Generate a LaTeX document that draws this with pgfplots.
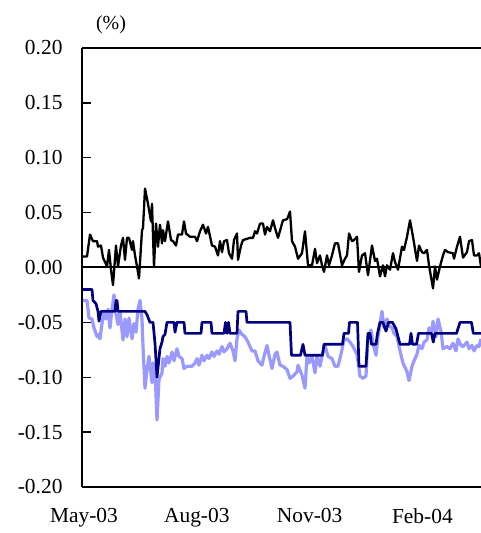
\documentclass[border=0pt]{standalone}
\usepackage{fontspec}
\setmainfont{Liberation Serif}
\usepackage{pgfplots}
\pgfplotsset{compat=1.18}
\usepackage{pgfplotstable}
\definecolor{navy}{RGB}{0,0,128}
\definecolor{lightb}{RGB}{153,153,255}

\pgfplotstableread{
t v
1 0.010
5 0.010
8 0.030
11 0.024
15 0.024
16 0.019
19 0.020
21 0.009
25 0.001
27 0.016
29 -0.002
31 -0.016
34 0.020
36 0.001
39 0.020
41 0.027
43 0.007
45 0.027
47 0.027
50 0.016
51 0.024
53 0.011
55 0.001
57 -0.010
60 0.034
61 0.036
63 0.072
66 0.058
69 0.042
70 0.058
72 0.001
74 0.040
76 0.019
78 0.039
80 0.022
81 0.034
83 0.024
86 0.042
89 0.025
91 0.024
94 0.020
96 0.030
100 0.030
102 0.042
104 0.031
108 0.028
113 0.028
115 0.024
118 0.033
121 0.039
124 0.031
126 0.037
130 0.020
133 0.019
136 0.011
138 0.024
140 0.014
142 0.024
145 0.025
147 0.013
150 0.008
152 0.025
155 0.031
156 0.007
159 0.020
161 0.025
168 0.027
171 0.027
173 0.033
175 0.031
178 0.040
181 0.040
183 0.030
185 0.037
188 0.033
191 0.043
193 0.036
196 0.027
200 0.040
201 0.043
205 0.044
206 0.046
208 0.051
210 0.024
213 0.019
216 0.008
220 0.013
223 0.033
226 0.002
230 0.002
233 0.017
235 0.004
238 0.011
240 0.002
242 -0.004
245 0.011
247 0.002
250 0.011
253 0.022
256 0.022
260 0.002
263 0.008
265 0.011
267 0.031
270 0.024
272 0.025
275 0.028
277 -0.004
280 0.011
283 0.013
286 -0.007
290 0.020
293 0.006
295 0.008
298 -0.008
301 0.002
303 -0.008
305 0.002
308 -0.002
311 0.013
313 0.005
316 -0.002
320 0.019
322 0.016
325 0.028
328 0.043
331 0.028
335 0.006
337 0.020
340 0.014
342 0.013
345 0.016
347 0.002
351 -0.019
353 0.001
355 -0.011
358 0.001
361 0.011
363 0.016
366 0.014
371 0.013
372 0.008
375 0.019
378 0.028
381 0.009
385 0.014
387 0.024
390 0.025
392 0.011
395 0.011
397 0.013
399 0.001
}\blackdata

\pgfplotstableread{
t v
1 -0.020
10 -0.020
11 -0.030
14 -0.033
16 -0.040
17 -0.049
19 -0.040
33 -0.040
34 -0.030
35 -0.030
36 -0.040
63 -0.040
65 -0.043
68 -0.050
71 -0.050
73 -0.069
75 -0.100
78 -0.074
80 -0.068
81 -0.063
83 -0.061
85 -0.050
92 -0.050
93 -0.059
95 -0.050
102 -0.050
103 -0.060
119 -0.060
120 -0.050
129 -0.050
130 -0.060
142 -0.060
143.5 -0.050
145 -0.060
146.5 -0.050
148 -0.060
155 -0.060
156 -0.040
164 -0.040
165 -0.050
208 -0.050
209.5 -0.080
218.5 -0.080
221 -0.070
223 -0.080
240.5 -0.080
242 -0.070
260.5 -0.070
262 -0.060
266.5 -0.060
267.5 -0.050
275.5 -0.050
277 -0.090
284 -0.090
286 -0.060
288 -0.060
289.5 -0.070
294 -0.070
295.5 -0.060
298 -0.050
301 -0.050
304 -0.058
306.5 -0.050
310.5 -0.050
314 -0.056
318 -0.070
327.5 -0.070
329 -0.060
330.5 -0.070
334.5 -0.070
336.5 -0.060
349.5 -0.060
351.3 -0.068
353 -0.060
374.5 -0.060
378 -0.050
389.5 -0.050
391.3 -0.060
399 -0.060
}\navydata

\pgfplotstableread{
t v
1 -0.030
5 -0.030
7 -0.046
10 -0.047
12 -0.055
15 -0.063
16 -0.061
18 -0.065
20 -0.051
22 -0.040
24 -0.047
26 -0.038
28 -0.055
30 -0.038
32 -0.025
34 -0.042
36 -0.052
38 -0.040
41 -0.066
43 -0.047
45 -0.063
47 -0.046
50 -0.065
52 -0.051
54 -0.059
56 -0.038
58 -0.030
60 -0.047
61 -0.072
63 -0.110
65 -0.093
67 -0.081
70 -0.105
71 -0.087
73 -0.093
75 -0.139
77 -0.102
80 -0.096
81 -0.083
83 -0.090
85 -0.081
87 -0.087
90 -0.077
92 -0.085
95 -0.074
97 -0.081
100 -0.083
102 -0.092
105 -0.090
110 -0.090
113 -0.087
115 -0.083
117 -0.089
120 -0.080
122 -0.085
125 -0.080
127 -0.083
130 -0.077
132 -0.081
135 -0.076
137 -0.079
140 -0.072
142 -0.077
145 -0.074
148 -0.069
151 -0.076
153 -0.085
155 -0.065
157 -0.057
160 -0.061
163 -0.063
166 -0.068
170 -0.076
173 -0.076
176 -0.085
180 -0.089
182 -0.081
185 -0.071
187 -0.080
190 -0.092
193 -0.079
195 -0.077
198 -0.089
201 -0.090
205 -0.093
208 -0.101
211 -0.099
215 -0.095
216 -0.089
220 -0.098
223 -0.110
225 -0.081
227 -0.087
230 -0.081
233 -0.096
235 -0.080
238 -0.090
241 -0.077
243 -0.071
246 -0.081
250 -0.083
253 -0.090
256 -0.090
259 -0.079
262 -0.066
265 -0.065
268 -0.068
271 -0.072
275 -0.079
278 -0.099
281 -0.101
284 -0.099
286 -0.063
289 -0.057
291 -0.069
294 -0.080
296 -0.063
300 -0.040
302 -0.055
305 -0.047
307 -0.053
310 -0.055
312 -0.060
315 -0.063
318 -0.076
321 -0.087
325 -0.095
327 -0.103
330 -0.090
332 -0.085
335 -0.079
337 -0.071
340 -0.074
342 -0.068
345 -0.066
347 -0.055
350 -0.058
351 -0.049
354 -0.063
356 -0.047
359 -0.058
361 -0.074
365 -0.072
368 -0.074
371 -0.069
374 -0.076
376 -0.065
379 -0.071
381 -0.072
385 -0.068
387 -0.074
390 -0.071
392 -0.076
395 -0.071
397 -0.072
399 -0.065
}\lightdata

\begin{document}
\begin{tikzpicture}
\begin{axis}[
  scale only axis,
  width=399bp, height=439bp,
  xmin=0, xmax=399,
  ymin=-0.2, ymax=0.2,
  axis x line=box,
  axis y line=left,
  axis line style={-, line width=2.5bp, black},
  xtick={2,114.8,227.6,340.4},
  xticklabels={May-03,Aug-03,Nov-03,Feb-04},
  xtick style={draw=none},
  x tick label style={yshift=-18bp},
  ytick={-0.2,-0.15,-0.1,-0.05,0,0.05,0.1,0.15,0.2},
  yticklabels={-0.20,-0.15,-0.10,-0.05,0.00,0.05,0.10,0.15,0.20},
  ytick pos=left,
  tick align=inside,
  major tick length=9bp,
  ytick style={line width=1.5bp, black},
  y tick label style={xshift=-16bp},
  ticklabel style={font=\fontsize{21.5}{24}\selectfont},
  clip=true,
]
\path (rel axis cs:0,0) coordinate (SW);
\path (rel axis cs:1,1) coordinate (NE);
\addplot[black, line width=2bp] coordinates {(0,0) (399,0)};
\addplot[lightb, line width=3.2bp, line join=round] table[x=t,y=v] {\lightdata};
\addplot[navy, line width=2.7bp, line join=round] table[x=t,y=v] {\navydata};
\addplot[black, line width=2.3bp, line join=round] table[x=t,y=v] {\blackdata};
\end{axis}
\node[font=\fontsize{20}{24}\selectfont] at ([xshift=29bp,yshift=23bp]SW |- NE) {(\%)};
\pgfresetboundingbox
\path[use as bounding box] ([xshift=-82bp,yshift=-46bp]SW) rectangle ([yshift=48bp]NE);
\end{tikzpicture}
\end{document}
